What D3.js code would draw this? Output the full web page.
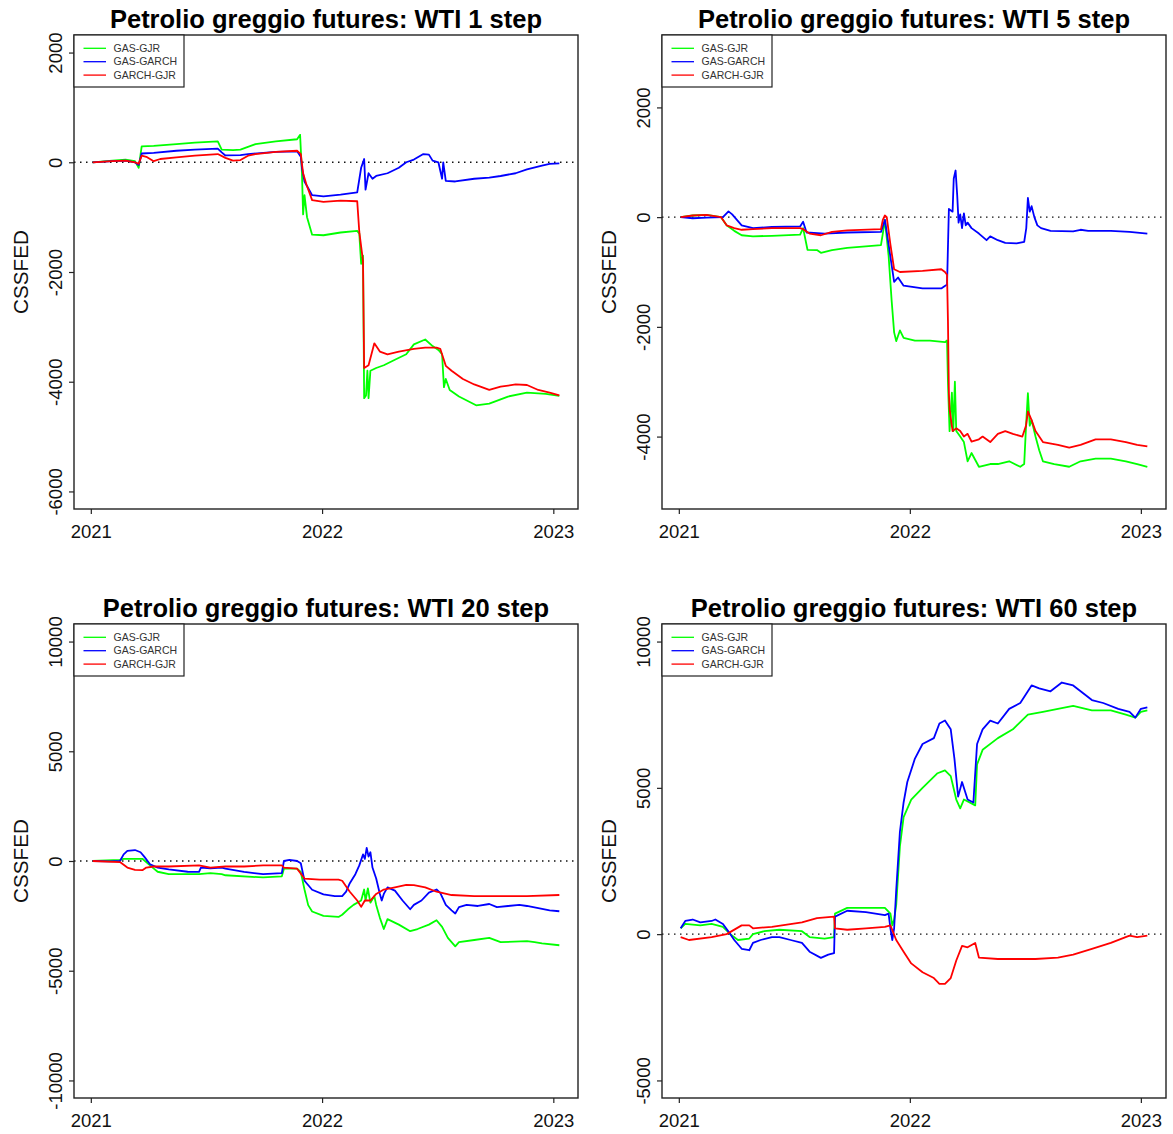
<!DOCTYPE html>
<html>
<head>
<meta charset="utf-8">
<script src="https://cdn.jsdelivr.net/npm/d3@7"></script>
<style>
  body { margin: 0; background: #fff; }
  svg { display: block; font-family: "Liberation Sans", Arial, sans-serif; }
</style>
</head>
<body>
<div id="chart"></div>
<script>
// series names / colours shared by all four panels
const seriesNames = ["GAS-GJR", "GAS-GARCH", "GARCH-GJR"];
const seriesColors = ["#00ff00", "#0000ff", "#ff0000"];
const steps = [1, 5, 20, 60];
const yLimits = [[-6000, 2000], [-5000, 3000], [-10000, 10000], [-5000, 10000]];
const yTickValues = [
  [-6000, -4000, -2000, 0, 2000],
  [-4000, -2000, 0, 2000],
  [-10000, -5000, 0, 5000, 10000],
  [-5000, 0, 5000, 10000],
];
const xTickValues = [2021, 2022, 2023];

// [decimal year, CSSFED]
const step1GasGjr = [[2021.008,0],[2021.093,30],[2021.150,50],[2021.191,20],[2021.207,-100],[2021.220,290],[2021.272,300],[2021.370,330],[2021.450,360],[2021.549,380],[2021.566,230],[2021.615,220],[2021.647,230],[2021.712,330],[2021.800,380],[2021.892,420],[2021.905,500],[2021.913,-200],[2021.918,-950],[2021.924,-600],[2021.935,-1000],[2021.957,-1320],[2022.006,-1330],[2022.080,-1280],[2022.152,-1250],[2022.161,-1300],[2022.169,-1850],[2022.177,-1700],[2022.182,-4300],[2022.190,-4250],[2022.196,-3800],[2022.201,-4300],[2022.209,-3800],[2022.234,-3750],[2022.267,-3700],[2022.315,-3600],[2022.364,-3500],[2022.397,-3320],[2022.446,-3230],[2022.478,-3350],[2022.503,-3420],[2022.519,-3500],[2022.527,-4100],[2022.535,-3950],[2022.552,-4150],[2022.592,-4270],[2022.666,-4430],[2022.723,-4400],[2022.804,-4270],[2022.886,-4200],[2022.967,-4220],[2023.026,-4260]];
const step1GasGarch = [[2021.008,0],[2021.093,20],[2021.150,30],[2021.191,0],[2021.207,-50],[2021.220,160],[2021.272,170],[2021.370,210],[2021.450,230],[2021.549,250],[2021.566,180],[2021.582,124],[2021.647,130],[2021.680,150],[2021.800,190],[2021.892,200],[2021.908,100],[2021.913,-100],[2021.924,-350],[2021.957,-600],[2022.006,-620],[2022.080,-590],[2022.152,-550],[2022.169,-100],[2022.182,60],[2022.188,-500],[2022.201,-200],[2022.218,-300],[2022.234,-250],[2022.283,-200],[2022.332,-100],[2022.364,0],[2022.397,50],[2022.438,150],[2022.462,140],[2022.478,30],[2022.503,0],[2022.519,-300],[2022.524,0],[2022.535,-340],[2022.576,-350],[2022.658,-300],[2022.723,-280],[2022.772,-250],[2022.837,-200],[2022.886,-130],[2022.951,-60],[2022.984,-30],[2023.026,-20]];
const step1GarchGjr = [[2021.008,0],[2021.093,20],[2021.150,30],[2021.191,0],[2021.207,-30],[2021.220,120],[2021.240,100],[2021.272,20],[2021.300,60],[2021.370,90],[2021.450,120],[2021.549,150],[2021.582,80],[2021.615,30],[2021.647,40],[2021.680,120],[2021.712,150],[2021.800,190],[2021.892,210],[2021.908,150],[2021.918,-200],[2021.932,-400],[2021.957,-690],[2022.006,-720],[2022.080,-700],[2022.152,-710],[2022.161,-1270],[2022.177,-1800],[2022.182,-3750],[2022.201,-3700],[2022.226,-3300],[2022.250,-3450],[2022.283,-3500],[2022.332,-3450],[2022.397,-3400],[2022.446,-3380],[2022.495,-3380],[2022.511,-3400],[2022.535,-3710],[2022.560,-3800],[2022.609,-3950],[2022.658,-4050],[2022.723,-4150],[2022.772,-4090],[2022.837,-4050],[2022.886,-4060],[2022.935,-4150],[2022.984,-4200],[2023.026,-4250]];

const step5GasGjr = [[2021.008,0],[2021.060,30],[2021.120,40],[2021.183,0],[2021.207,-150],[2021.240,-250],[2021.272,-330],[2021.321,-350],[2021.403,-340],[2021.525,-320],[2021.538,-200],[2021.557,-595],[2021.598,-600],[2021.615,-650],[2021.663,-600],[2021.729,-560],[2021.875,-510],[2021.883,-300],[2021.892,-50],[2021.908,-700],[2021.921,-1510],[2021.932,-2100],[2021.941,-2260],[2021.957,-2065],[2021.973,-2200],[2022.022,-2250],[2022.087,-2250],[2022.152,-2280],[2022.161,-2250],[2022.165,-3010],[2022.172,-3900],[2022.182,-3200],[2022.188,-3900],[2022.195,-3000],[2022.201,-3900],[2022.218,-4000],[2022.234,-4100],[2022.250,-4450],[2022.267,-4300],[2022.299,-4550],[2022.348,-4500],[2022.381,-4500],[2022.430,-4450],[2022.478,-4550],[2022.495,-4500],[2022.503,-3810],[2022.511,-3210],[2022.519,-3800],[2022.527,-3700],[2022.544,-4000],[2022.560,-4250],[2022.576,-4450],[2022.625,-4500],[2022.690,-4550],[2022.739,-4450],[2022.804,-4400],[2022.870,-4400],[2022.935,-4450],[2022.984,-4500],[2023.028,-4550]];
const step5GasGarch = [[2021.008,0],[2021.060,-20],[2021.120,-10],[2021.191,0],[2021.215,105],[2021.231,50],[2021.272,-150],[2021.321,-200],[2021.403,-180],[2021.525,-170],[2021.538,-85],[2021.553,-280],[2021.631,-300],[2021.729,-280],[2021.875,-270],[2021.892,-50],[2021.908,-500],[2021.932,-1180],[2021.949,-1100],[2021.973,-1250],[2022.055,-1300],[2022.136,-1300],[2022.161,-1230],[2022.169,150],[2022.185,100],[2022.190,700],[2022.198,850],[2022.205,400],[2022.211,-100],[2022.218,50],[2022.226,-200],[2022.234,70],[2022.242,-150],[2022.250,-100],[2022.267,-200],[2022.299,-300],[2022.332,-420],[2022.348,-350],[2022.381,-420],[2022.413,-470],[2022.462,-480],[2022.495,-450],[2022.504,-200],[2022.511,350],[2022.519,100],[2022.527,200],[2022.539,0],[2022.552,-150],[2022.568,-200],[2022.609,-250],[2022.707,-260],[2022.739,-230],[2022.772,-250],[2022.870,-250],[2022.951,-270],[2023.028,-300]];
const step5GarchGjr = [[2021.008,0],[2021.060,30],[2021.120,40],[2021.183,0],[2021.207,-150],[2021.240,-200],[2021.272,-230],[2021.321,-220],[2021.403,-200],[2021.525,-200],[2021.538,-220],[2021.566,-300],[2021.615,-330],[2021.663,-270],[2021.729,-240],[2021.875,-220],[2021.883,-50],[2021.892,30],[2021.900,0],[2021.916,-500],[2021.932,-950],[2021.957,-1000],[2022.055,-980],[2022.136,-950],[2022.152,-1000],[2022.161,-1050],[2022.165,-1900],[2022.169,-3210],[2022.172,-3500],[2022.185,-3900],[2022.201,-3850],[2022.218,-3900],[2022.234,-4000],[2022.250,-3950],[2022.267,-4090],[2022.299,-4050],[2022.315,-4000],[2022.348,-4100],[2022.381,-3950],[2022.413,-3900],[2022.446,-3950],[2022.487,-4000],[2022.503,-3800],[2022.511,-3540],[2022.527,-3700],[2022.544,-3900],[2022.576,-4100],[2022.641,-4150],[2022.690,-4200],[2022.739,-4150],[2022.804,-4050],[2022.870,-4050],[2022.935,-4100],[2022.984,-4150],[2023.028,-4180]];

const step20GasGjr = [[2021.008,0],[2021.126,50],[2021.142,100],[2021.223,100],[2021.256,-200],[2021.289,-490],[2021.337,-600],[2021.468,-600],[2021.517,-550],[2021.566,-600],[2021.582,-650],[2021.745,-750],[2021.826,-700],[2021.835,-350],[2021.892,-350],[2021.908,-500],[2021.924,-1300],[2021.940,-2010],[2021.957,-2300],[2022.006,-2500],[2022.071,-2550],[2022.087,-2450],[2022.112,-2200],[2022.136,-2000],[2022.169,-1800],[2022.182,-1300],[2022.188,-1800],[2022.198,-1250],[2022.209,-1900],[2022.226,-1600],[2022.234,-2000],[2022.250,-2590],[2022.267,-3100],[2022.283,-2650],[2022.332,-2900],[2022.381,-3200],[2022.413,-3100],[2022.462,-2900],[2022.495,-2700],[2022.519,-3000],[2022.544,-3500],[2022.576,-3890],[2022.592,-3700],[2022.658,-3600],[2022.723,-3500],[2022.772,-3700],[2022.886,-3650],[2022.919,-3700],[2022.951,-3750],[2023.026,-3840]];
const step20GasGarch = [[2021.008,0],[2021.080,-20],[2021.126,0],[2021.142,300],[2021.158,460],[2021.191,500],[2021.215,400],[2021.231,200],[2021.256,-150],[2021.289,-300],[2021.337,-380],[2021.419,-490],[2021.468,-500],[2021.476,-300],[2021.517,-330],[2021.566,-300],[2021.582,-350],[2021.663,-500],[2021.745,-600],[2021.826,-550],[2021.835,0],[2021.859,50],[2021.892,0],[2021.908,-100],[2021.924,-900],[2021.957,-1310],[2022.006,-1520],[2022.055,-1600],[2022.087,-1600],[2022.104,-1400],[2022.120,-1010],[2022.144,-600],[2022.161,-200],[2022.177,300],[2022.185,100],[2022.193,600],[2022.201,200],[2022.209,400],[2022.218,-300],[2022.234,-800],[2022.250,-1500],[2022.258,-1800],[2022.267,-1500],[2022.283,-1200],[2022.315,-1350],[2022.348,-1800],[2022.381,-2200],[2022.397,-2000],[2022.430,-1800],[2022.462,-1440],[2022.495,-1300],[2022.511,-1450],[2022.535,-2000],[2022.560,-2250],[2022.576,-2390],[2022.592,-2100],[2022.625,-2000],[2022.674,-2050],[2022.723,-1960],[2022.756,-2100],[2022.804,-2050],[2022.853,-2000],[2022.886,-2050],[2022.935,-2150],[2022.984,-2250],[2023.026,-2290]];
const step20GarchGjr = [[2021.008,0],[2021.126,-50],[2021.158,-300],[2021.191,-400],[2021.223,-420],[2021.240,-300],[2021.272,-250],[2021.337,-250],[2021.468,-200],[2021.517,-300],[2021.582,-250],[2021.663,-250],[2021.745,-200],[2021.826,-200],[2021.835,-300],[2021.892,-350],[2021.924,-800],[2021.989,-850],[2022.071,-850],[2022.087,-900],[2022.120,-1400],[2022.152,-1800],[2022.169,-2090],[2022.185,-1800],[2022.209,-1800],[2022.234,-1500],[2022.267,-1300],[2022.315,-1200],[2022.364,-1090],[2022.397,-1100],[2022.446,-1200],[2022.495,-1400],[2022.560,-1550],[2022.658,-1600],[2022.723,-1600],[2022.886,-1600],[2023.026,-1550]];

const step60GasGjr = [[2021.008,200],[2021.028,350],[2021.093,300],[2021.142,350],[2021.191,250],[2021.223,0],[2021.256,-200],[2021.305,-150],[2021.321,0],[2021.370,100],[2021.435,150],[2021.533,100],[2021.566,-100],[2021.631,-150],[2021.672,-100],[2021.676,700],[2021.729,900],[2021.892,900],[2021.916,700],[2021.924,300],[2021.932,500],[2021.941,1000],[2021.957,3000],[2021.973,4000],[2022.006,4600],[2022.055,5000],[2022.120,5500],[2022.152,5600],[2022.177,5400],[2022.201,4600],[2022.218,4300],[2022.234,4600],[2022.283,4400],[2022.291,5800],[2022.315,6300],[2022.381,6700],[2022.446,7000],[2022.511,7500],[2022.576,7600],[2022.641,7700],[2022.707,7800],[2022.788,7650],[2022.870,7650],[2022.935,7500],[2022.976,7400],[2023.000,7600],[2023.028,7650]];
const step60GasGarch = [[2021.008,200],[2021.028,450],[2021.060,500],[2021.093,400],[2021.142,450],[2021.158,500],[2021.191,350],[2021.223,0],[2021.240,-200],[2021.272,-500],[2021.305,-550],[2021.321,-300],[2021.354,-200],[2021.403,-100],[2021.435,-100],[2021.484,-200],[2021.533,-300],[2021.566,-600],[2021.615,-810],[2021.647,-700],[2021.672,-650],[2021.676,600],[2021.729,800],[2021.810,750],[2021.892,650],[2021.908,700],[2021.916,200],[2021.924,-200],[2021.932,200],[2021.941,1500],[2021.957,3500],[2021.973,4500],[2021.989,5200],[2022.022,6000],[2022.055,6500],[2022.104,6700],[2022.128,7200],[2022.152,7300],[2022.177,7000],[2022.193,6000],[2022.209,4700],[2022.226,5200],[2022.250,4600],[2022.275,4500],[2022.291,6500],[2022.315,7000],[2022.348,7300],[2022.381,7200],[2022.430,7700],[2022.478,7900],[2022.527,8500],[2022.560,8400],[2022.609,8300],[2022.658,8600],[2022.707,8500],[2022.756,8200],[2022.788,8000],[2022.837,7900],[2022.902,7700],[2022.951,7600],[2022.976,7400],[2023.000,7700],[2023.028,7750]];
const step60GarchGjr = [[2021.008,-100],[2021.044,-200],[2021.142,-100],[2021.207,0],[2021.272,300],[2021.305,300],[2021.321,200],[2021.403,250],[2021.533,400],[2021.598,550],[2021.672,600],[2021.676,200],[2021.729,150],[2021.810,200],[2021.892,250],[2021.916,300],[2021.941,-200],[2021.973,-600],[2022.006,-1000],[2022.055,-1300],[2022.104,-1500],[2022.128,-1700],[2022.152,-1700],[2022.177,-1500],[2022.201,-900],[2022.226,-400],[2022.250,-450],[2022.283,-300],[2022.299,-800],[2022.381,-850],[2022.462,-850],[2022.544,-850],[2022.641,-800],[2022.707,-700],[2022.788,-500],[2022.870,-300],[2022.951,-50],[2022.984,-100],[2023.028,-50]];

const panelSeries = [
  [step1GasGjr, step1GasGarch, step1GarchGjr],
  [step5GasGjr, step5GasGarch, step5GarchGjr],
  [step20GasGjr, step20GasGarch, step20GarchGjr],
  [step60GasGjr, step60GasGarch, step60GarchGjr],
];

const width = 1173;
const height = 1134;
const plotW = 504;
const plotH = 474;
const origins = [
  [74, 35],
  [662, 35],
  [74, 624],
  [662, 624],
];

const svg = d3
  .select("#chart")
  .append("svg")
  .attr("width", width)
  .attr("height", height);

// R style: 4% padding around the data range
function padded(lo, hi) {
  const d = (hi - lo) * 0.04;
  return [lo - d, hi + d];
}

// plain numbers with an ascii minus, like R prints them
const plain = (d) => String(d);

steps.forEach(function (step, i) {
  const [left, top] = origins[i];
  const series = panelSeries[i];
  const allX = series.flat().map((d) => d[0]);

  const x = d3
    .scaleLinear()
    .domain(padded(d3.min(allX), d3.max(allX)))
    .range([0, plotW]);
  const y = d3
    .scaleLinear()
    .domain(padded(yLimits[i][0], yLimits[i][1]))
    .range([plotH, 0]);

  const g = svg.append("g").attr("transform", `translate(${left},${top})`);

  // zero reference line
  g.append("line")
    .attr("x1", 0)
    .attr("x2", plotW)
    .attr("y1", y(0))
    .attr("y2", y(0))
    .attr("stroke", "#111")
    .attr("stroke-width", 1.4)
    .attr("stroke-dasharray", "1.5,4.5");

  const line = d3
    .line()
    .x((d) => x(d[0]))
    .y((d) => y(d[1]));

  series.forEach(function (s, k) {
    g.append("path")
      .datum(s)
      .attr("fill", "none")
      .attr("stroke", seriesColors[k])
      .attr("stroke-width", 1.8)
      .attr("stroke-linejoin", "round")
      .attr("d", line);
  });

  // x axis
  const xAxis = g
    .append("g")
    .attr("transform", `translate(0,${plotH})`)
    .call(d3.axisBottom(x).tickValues(xTickValues).tickSize(5).tickFormat(plain));
  xAxis.select(".domain").remove();
  xAxis.selectAll("line").attr("stroke", "#222").attr("stroke-width", 1.2);
  xAxis
    .selectAll("text")
    .attr("fill", "#111")
    .attr("font-size", 18.5)
    .attr("font-family", "Liberation Sans, Arial, sans-serif")
    .attr("dy", null)
    .attr("y", 29);

  // y axis, labels parallel to the axis
  const yAxis = g
    .append("g")
    .call(d3.axisLeft(y).tickValues(yTickValues[i]).tickSize(5).tickFormat(plain));
  yAxis.select(".domain").remove();
  yAxis.selectAll("line").attr("stroke", "#222").attr("stroke-width", 1.2);
  yAxis
    .selectAll("text")
    .attr("fill", "#111")
    .attr("font-size", 18.5)
    .attr("font-family", "Liberation Sans, Arial, sans-serif")
    .attr("text-anchor", "middle")
    .attr("transform", "rotate(-90)")
    .attr("x", 0)
    .attr("y", -12.5)
    .attr("dy", null);

  // frame
  g.append("rect")
    .attr("width", plotW)
    .attr("height", plotH)
    .attr("fill", "none")
    .attr("stroke", "#222")
    .attr("stroke-width", 1.4);

  // title
  g.append("text")
    .attr("x", plotW / 2)
    .attr("y", -7.5)
    .attr("text-anchor", "middle")
    .attr("font-size", 25.5)
    .attr("font-weight", "bold")
    .attr("fill", "#000")
    .text(`Petrolio greggio futures: WTI ${step} step`);

  // y label
  g.append("text")
    .attr("transform", `translate(-46,${plotH / 2}) rotate(-90)`)
    .attr("text-anchor", "middle")
    .attr("font-size", 20.7)
    .attr("fill", "#111")
    .text("CSSFED");

  // legend box
  const legend = g.append("g");
  legend
    .append("rect")
    .attr("width", 110)
    .attr("height", 52)
    .attr("fill", "#fff")
    .attr("stroke", "#222")
    .attr("stroke-width", 1.2);
  seriesNames.forEach(function (name, k) {
    const ly = 13.3 + k * 13.4;
    legend
      .append("line")
      .attr("x1", 9.5)
      .attr("x2", 32)
      .attr("y1", ly)
      .attr("y2", ly)
      .attr("stroke", seriesColors[k])
      .attr("stroke-width", 1.3);
    legend
      .append("text")
      .attr("x", 39.5)
      .attr("y", ly)
      .attr("dy", "0.35em")
      .attr("font-size", 10.5)
      .attr("fill", "#333")
      .text(name);
  });
});
</script>
</body>
</html>
